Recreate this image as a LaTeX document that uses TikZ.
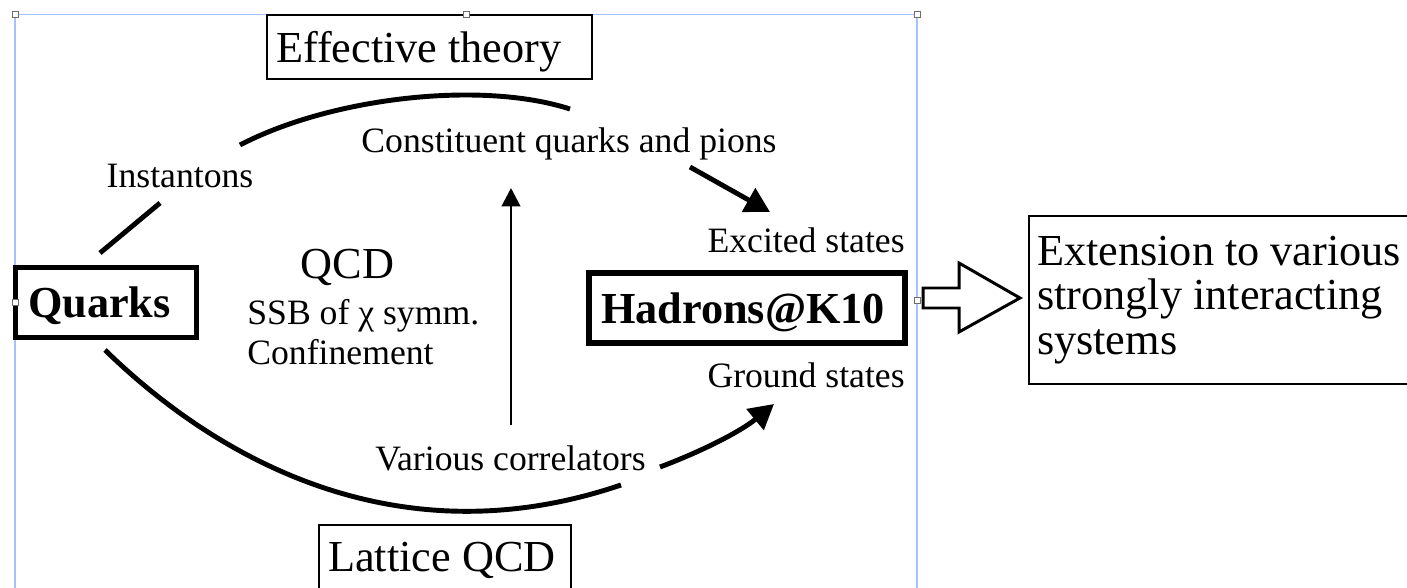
\documentclass[tikz,border=0pt]{standalone}
\usepackage{fontspec}
\setmainfont{Liberation Serif}
\usetikzlibrary{arrows.meta}
\definecolor{selblue}{RGB}{165,195,250}
\definecolor{handlegray}{RGB}{110,110,110}
\newcommand{\fontL}{\fontsize{25.2}{25.5}\selectfont}
\newcommand{\fontS}{\fontsize{20.3}{24}\selectfont}

\begin{document}
\begin{tikzpicture}[x=0.02cm, y=-0.02cm]
    \tikzstyle{lbl} = [inner sep=0pt, text depth=0pt, font=\fontS]
    \tikzstyle{thinbox} = [draw, line width=1.1pt, inner ysep=0pt, text depth=0pt, align=flush left, minimum height=1.28cm, font=\fontL]
    \tikzstyle{boldbox} = [draw, line width=2.8pt, inner ysep=0pt, text depth=0pt, align=flush left, minimum height=1.4cm, font=\fontL\bfseries]
    \tikzstyle{flow} = [line width=2.8pt]
    \tikzstyle{arrow} = [line width=2.8pt, -{Triangle[length=14pt,width=15pt]}]
    \tikzstyle{handle} = [draw=handlegray, fill=white, line width=0.5pt, minimum size=0.12cm, inner sep=0pt]

    \useasboundingbox (0,0) rectangle (1407,588);

    % selection frame
    \draw[selblue, line width=0.6pt] (15,600) -- (15,14.5) -- (917,14.5) -- (917,600);

    \node[thinbox, text width=6.14cm, inner xsep=0.18cm] (eff) at (429.5,47) {Effective theory};
    \node[thinbox, text width=4.68cm, inner xsep=0.18cm] (lat) at (445,557) {Lattice QCD};
    \node[boldbox, text width=3.12cm, inner xsep=0.25cm] (qrk) at (106,302.5) {Quarks};
    \node[boldbox, line width=3.4pt, text width=5.84cm, inner xsep=0.24cm] (had) at (747,308) {Hadrons@K10};
    \node[draw, line width=1.1pt, align=flush left, text width=7.7cm, inner xsep=0.16cm, inner ysep=0pt,
          minimum height=3.36cm, font=\fontL] (ext) at (1229.5,300)
          {Extension to various\\strongly interacting\\systems};

    \node[lbl] (inst) at (180,176) {Instantons};
    \node[lbl] (cqp) at (569,140) {Constituent quarks and pions};
    \node[lbl, font=\fontL] (qcd) at (347.5,264) {QCD};
    \node[lbl, anchor=west] (ssb) at (247,311.5) {SSB of χ symm.};
    \node[lbl, anchor=west] (conf) at (247,351.5) {Confinement};
    \node[lbl, anchor=east] (exc) at (905,240.5) {Excited states};
    \node[lbl, anchor=east] (gnd) at (905,375) {Ground states};
    \node[lbl] (corr) at (510.5,458) {Various correlators};

    \coordinate (t1) at (100,253);
    \coordinate (t2) at (160,203);
    \coordinate (t3) at (240,145);
    \coordinate (t4) at (570,109);
    \coordinate (t5) at (690,167);
    \coordinate (t6) at (770,212);
    \coordinate (b1) at (105,350);
    \coordinate (b2) at (621,485);
    \coordinate (b3) at (660,467);
    \coordinate (b4) at (774,404);
    \coordinate (v1) at (511,425);
    \coordinate (v2) at (511,188);

    \draw[flow] (t1) -- (t2);
    \draw[flow] (t3) .. controls (330,98) and (480,80) .. (t4);
    \draw[arrow] (t5) -- (t6);
    \draw[flow] (b1) .. controls (220,462) and (400,560) .. (b2);
    \draw[arrow] (b3) .. controls (700,452) and (740,432) .. (b4);
    \draw[line width=1.7pt, -{Triangle[length=10.5pt,width=10.5pt]}] (v1) -- (v2);

    % hollow arrow
    \draw[line width=1.7pt, fill=white] (923,288) -- (959,288) -- (959,263) -- (1020,298)
        -- (959,332) -- (959,308) -- (923,308) -- cycle;

    \foreach \hx/\hy [count=\i] in {15/14.5, 466/14.5, 917/14.5, 15/302, 917/300}
        \node[handle] (h\i) at (\hx,\hy) {};
\end{tikzpicture}
\end{document}
